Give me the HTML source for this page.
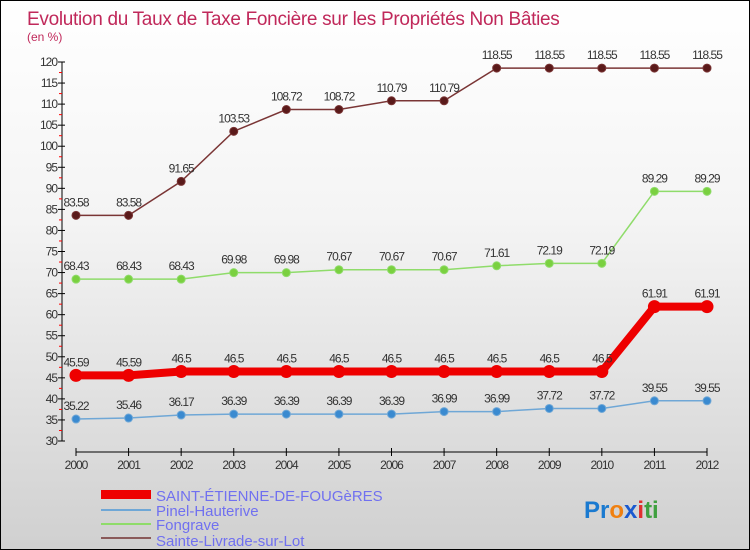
<!DOCTYPE html>
<html><head><meta charset="utf-8"><style>
body{margin:0;}
#c{width:750px;height:550px;position:relative;background:linear-gradient(#ffffff,#f4f4f4 40%,#d0d0d0);border:1px solid #000;box-sizing:border-box;overflow:hidden;font-family:"Liberation Sans",sans-serif;}
svg text{font-family:"Liberation Sans",sans-serif;}
</style></head><body>
<div id="c">
<svg id="s" width="750" height="550">
<text x="26" y="24" font-size="19" letter-spacing="-0.3" fill="#c0285a">Evolution du Taux de Taxe Foncière sur les Propriétés Non Bâties</text>
<text x="26" y="40" font-size="12" fill="#c0285a">(en %)</text>
<g id="axes"></g><g id="series"></g>
<g>
<rect x="100" y="489" width="50" height="9" fill="#e00"/>
<text x="155" y="500" font-size="15" fill="#7070f0">SAINT-ÉTIENNE-DE-FOUGèRES</text>
<rect x="100" y="508" width="50" height="2" fill="#6fa7d6"/>
<text x="155" y="515" font-size="15" fill="#7070f0">Pinel-Hauterive</text>
<rect x="100" y="522" width="50" height="2" fill="#8fdc6a"/>
<text x="155" y="529" font-size="15" fill="#7070f0">Fongrave</text>
<rect x="100" y="536" width="50" height="2" fill="#8a5a5a"/>
<text x="155" y="545" font-size="15" fill="#7070f0">Sainte-Livrade-sur-Lot</text>
</g>
<text x="583" y="517" font-size="24" font-weight="bold"><tspan fill="#1a7ad0">Pr</tspan><tspan fill="#f08010">o</tspan><tspan fill="#1a5ad0">x</tspan><tspan fill="#e03030">i</tspan><tspan fill="#40a040">ti</tspan></text>
</svg>
</div>
<script>
const years=[2000,2001,2002,2003,2004,2005,2006,2007,2008,2009,2010,2011,2012];
const yTicks=[30,35,40,45,50,55,60,65,70,75,80,85,90,95,100,105,110,115,120];
const saintEtienne=[45.59,45.59,46.5,46.5,46.5,46.5,46.5,46.5,46.5,46.5,46.5,61.91,61.91];
const pinel=[35.22,35.46,36.17,36.39,36.39,36.39,36.39,36.99,36.99,37.72,37.72,39.55,39.55];
const fongrave=[68.43,68.43,68.43,69.98,69.98,70.67,70.67,70.67,71.61,72.19,72.19,89.29,89.29];
const sainteLivrade=[83.58,83.58,91.65,103.53,108.72,108.72,110.79,110.79,118.55,118.55,118.55,118.55,118.55];
const NS="http://www.w3.org/2000/svg";
const x=i=>75+i*(706-75)/(years.length-1);
const y=v=>440-(v-30)*(440-61)/90;
function mk(t,a,p){const e=document.createElementNS(NS,t);for(const k in a)e.setAttribute(k,a[k]);p.appendChild(e);return e;}
const ax=document.getElementById('axes'),se=document.getElementById('series');
let yl=mk('line',{x1:61,y1:61,x2:61,y2:440,stroke:'#000'},ax);


yTicks.forEach(v=>{
 mk('line',{x1:57,x2:64,y1:y(v),y2:y(v),stroke:'#000'},ax);
 if(v<120)mk('line',{x1:58,x2:61,y1:y(v+2.5),y2:y(v+2.5),stroke:'#f00'},ax);
 const t=mk('text',{x:56,y:y(v)+4,'font-size':12,fill:'#333','text-anchor':'end','letter-spacing':'-1'},ax);
 t.textContent=v;
 
 
});
let xl=mk('line',{x1:75,y1:451,x2:706,y2:451,stroke:'#000'},ax);


years.forEach((yr,i)=>{
 mk('line',{x1:x(i),x2:x(i),y1:447,y2:455,stroke:'#000'},ax);
 const t=mk('text',{x:x(i),y:468,'font-size':12,fill:'#333','text-anchor':'middle','letter-spacing':'-1'},ax);
 t.textContent=yr;
 
 
});
function draw(data,name,color,dot,w,r){
 const g=mk('g',{},se);
 
 
 const pl=mk('polyline',{points:data.map((v,i)=>x(i)+','+y(v)).join(' '),fill:'none',stroke:color,'stroke-width':w},g);
 
 
 data.forEach((v,i)=>{
  const c=mk('circle',{cx:x(i),cy:y(v),r:r,fill:dot,stroke:color,'stroke-width':1},g);
  
  
  const t=mk('text',{x:x(i),y:y(v)-9,'font-size':12,fill:'#333','text-anchor':'middle','letter-spacing':'-1'},g);
  t.textContent=v;
  
  
 });
}
draw(sainteLivrade,'sainte-livrade','#7a3535','#5a1a1a',1.5,4);
draw(fongrave,'fongrave','#8fdc6a','#7ad040',1.5,4);
draw(pinel,'pinel','#6fa7d6','#3a8ad0',1.5,4);
draw(saintEtienne,'saint-etienne','#ee0000','#ee0000',8,6);
</script>
</body></html>
